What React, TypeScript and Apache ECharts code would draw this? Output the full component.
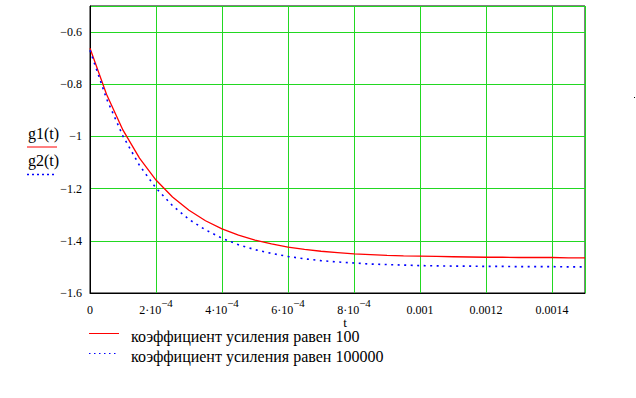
import React, { useEffect, useRef } from "react";
import * as echarts from "echarts";

const tValues = [
  0, 0.00005, 0.0001, 0.00015, 0.0002, 0.00025, 0.0003, 0.00035, 0.0004, 0.00045,
  0.0005, 0.00055, 0.0006, 0.00065, 0.0007, 0.00075, 0.0008, 0.00085, 0.0009, 0.00095,
  0.001, 0.00105, 0.0011, 0.00115, 0.0012, 0.00125, 0.0013, 0.00135, 0.0014, 0.00145, 0.0015,
];
const g1Values = [
  -0.662, -0.838, -0.976, -1.083, -1.167, -1.232, -1.283, -1.323, -1.354, -1.378,
  -1.397, -1.412, -1.424, -1.433, -1.44, -1.445, -1.45, -1.453, -1.456, -1.458,
  -1.459, -1.46, -1.461, -1.462, -1.463, -1.463, -1.464, -1.464, -1.464, -1.465, -1.465,
];
const g2Values = [
  -0.67, -0.855, -0.999, -1.111, -1.198, -1.265, -1.318, -1.358, -1.39, -1.415,
  -1.434, -1.448, -1.46, -1.469, -1.476, -1.481, -1.485, -1.489, -1.491, -1.493,
  -1.495, -1.496, -1.497, -1.497, -1.498, -1.498, -1.499, -1.499, -1.499, -1.5, -1.5,
];
const xTickValues = [0, 0.0002, 0.0004, 0.0006, 0.0008, 0.001, 0.0012, 0.0014];
const xTickLabels = ["{a|0}", "{a|2·10}{s|−4}", "{a|4·10}{s|−4}", "{a|6·10}{s|−4}", "{a|8·10}{s|−4}", "{a|0.001}", "{a|0.0012}", "{a|0.0014}"];
const yTickValues = [-1.6, -1.4, -1.2, -1, -0.8, -0.6];
const yTickLabels = ["−1.6", "−1.4", "−1.2", "−1", "−0.8", "−0.6"];
const seriesNames = ["коэффициент усиления равен 100", "коэффициент усиления равен 100000"];

const FONT = "Liberation Serif";
const GREEN = "#22d822";
const RED = "#ff0000";
const BLUE = "#0000ff";

export default function App() {
  const ref = useRef<HTMLDivElement>(null);
  useEffect(() => {
    const chart = echarts.init(ref.current!, null, { renderer: "svg" });
    const lookup = (vals: number[], labels: string[], v: number) => {
      for (let i = 0; i < vals.length; i++) {
        if (Math.abs(vals[i] - v) < 1e-9) return labels[i];
      }
      return "";
    };
    chart.setOption({
      animation: false,
      textStyle: { fontFamily: FONT },
      grid: {
        left: 90, top: 6, width: 495, height: 287,
        show: true, borderColor: "#000", borderWidth: 1, backgroundColor: "transparent",
      },
      xAxis: {
        type: "value", min: 0, max: 0.0015, interval: 0.0002,
        axisLine: { show: true, lineStyle: { color: "#000", width: 1 } },
        axisTick: { show: false },
        splitLine: { show: true, lineStyle: { color: GREEN, width: 1 } },
        axisLabel: {
          margin: 4,
          formatter: (v: number) => lookup(xTickValues, xTickLabels, v),
          rich: {
            a: { fontFamily: FONT, fontSize: 12, color: "#000", lineHeight: 19, verticalAlign: "bottom" },
            s: { fontFamily: FONT, fontSize: 11, color: "#000", lineHeight: 12, verticalAlign: "top" },
          },
        },
      },
      yAxis: {
        type: "value", min: -1.6, max: -0.5, interval: 0.2,
        axisLine: { show: true, lineStyle: { color: "#000", width: 1 } },
        axisTick: { show: false },
        splitLine: { show: true, lineStyle: { color: GREEN, width: 1 } },
        axisLabel: {
          margin: 8, fontFamily: FONT, fontSize: 12, color: "#000",
          formatter: (v: number) => lookup(yTickValues, yTickLabels, v),
        },
      },
      series: [
        {
          name: seriesNames[0], type: "line", symbol: "none", smooth: false,
          data: tValues.map((t, i) => [t, g1Values[i]]),
          lineStyle: { color: RED, width: 1.3, type: "solid" },
          itemStyle: { color: RED },
        },
        {
          name: seriesNames[1], type: "line", symbol: "none", smooth: false,
          data: tValues.map((t, i) => [t, g2Values[i]]),
          lineStyle: { color: BLUE, width: 1.6, type: [2, 4.5] },
          itemStyle: { color: BLUE },
        },
      ],
      graphic: [
        { type: "text", left: 28, top: 125, style: { text: "g1(t)", font: `16px "${FONT}"`, fill: "#000" } },
        { type: "line", shape: { x1: 27, y1: 147, x2: 57, y2: 147 }, style: { stroke: RED, lineWidth: 1 } },
        { type: "text", left: 28, top: 152, style: { text: "g2(t)", font: `16px "${FONT}"`, fill: "#000" } },
        { type: "line", shape: { x1: 27, y1: 174.5, x2: 54, y2: 174.5 }, style: { stroke: BLUE, lineWidth: 1.5, lineDash: [2, 3] } },
        { type: "text", x: 345, y: 322.5, style: { text: "t", font: `13px "${FONT}"`, fill: "#000", lineHeight: 11, textAlign: "center", textVerticalAlign: "middle" } },
        { type: "rect", shape: { x: 634, y: 97, width: 1, height: 1 }, style: { fill: "#000" } },
        { type: "line", shape: { x1: 89, y1: 333.5, x2: 119, y2: 333.5 }, style: { stroke: RED, lineWidth: 1 } },
        { type: "text", x: 131, y: 336, style: { text: seriesNames[0], font: `16px "${FONT}"`, fill: "#000", lineHeight: 12, textVerticalAlign: "middle" } },
        { type: "line", shape: { x1: 89, y1: 353.5, x2: 117, y2: 353.5 }, style: { stroke: BLUE, lineWidth: 1, lineDash: [1.5, 3.5] } },
        { type: "text", x: 131, y: 356, style: { text: seriesNames[1], font: `16px "${FONT}"`, fill: "#000", lineHeight: 12, textVerticalAlign: "middle" } },
      ],
    });
    return () => chart.dispose();
  }, []);
  return <div ref={ref} style={{ position: "absolute", left: 0, top: 0, width: 636, height: 398 }} />;
}
